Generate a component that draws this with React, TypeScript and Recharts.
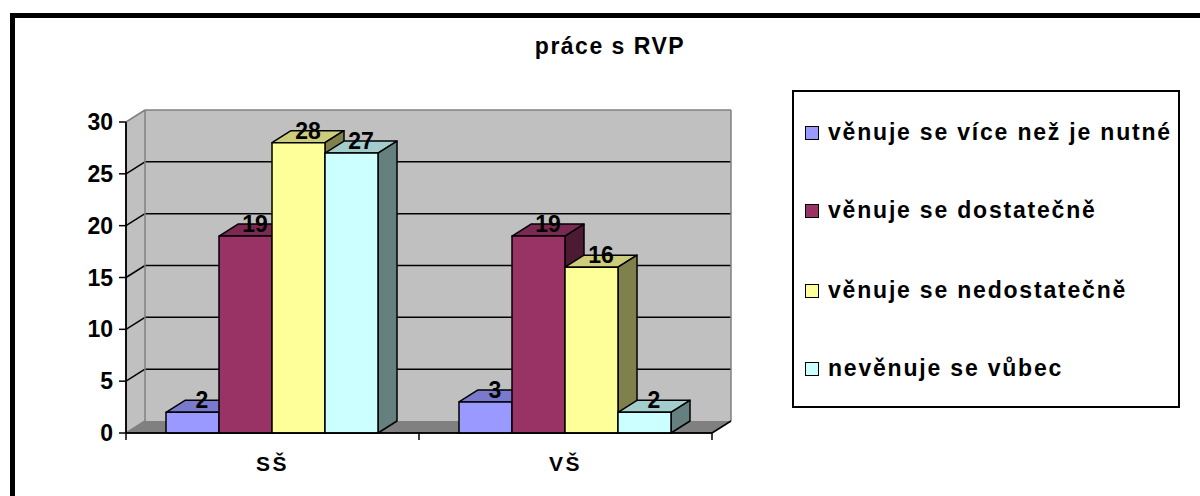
import React from "react";
import {
    BarChart,
    Bar,
    XAxis,
    YAxis,
    ReferenceArea,
    LabelList,
} from "recharts";

const categories = ["SŠ", "VŠ"];
const seriesNames = [
    "věnuje se více než je nutné",
    "věnuje se dostatečně",
    "věnuje se nedostatečně",
    "nevěnuje se vůbec",
];
const moreThanNeeded = [2, 3];
const enough = [19, 19];
const notEnough = [28, 16];
const notAtAll = [27, 2];
const yTicks = [0, 5, 10, 15, 20, 25, 30];

const seriesValues = [moreThanNeeded, enough, notEnough, notAtAll];

// front / top / side face colours for each series
const faces = [
    { front: "#9999FF", top: "#7A7ACC", side: "#4D4D80" },
    { front: "#993366", top: "#7A2952", side: "#4D1A33" },
    { front: "#FFFF99", top: "#CCCC7A", side: "#80804D" },
    { front: "#CCFFFF", top: "#A3CCCC", side: "#668080" },
];

const data = categories.map((name, i) => {
    const row: Record<string, string | number> = { name };
    seriesValues.forEach((vals, s) => {
        row[`s${s}`] = vals[i];
    });
    return row;
});

// depth of the 3D projection
const DX = 19;
const DY = -12;

const FONT = "Arial, 'Liberation Sans', sans-serif";
const WALL = "#C0C0C0";
const EDGE = "#808080";

const makeBar3D = (c: { front: string; top: string; side: string }) => (props: any) => {
    const { x, y, width, height } = props;
    if (width == null || height == null) return null;
    const b = y + height;
    const r = x + width;
    return (
        <g stroke="#000" strokeWidth={1.5} strokeLinejoin="round">
            <polygon
                points={`${x},${y} ${x + DX},${y + DY} ${r + DX},${y + DY} ${r},${y}`}
                fill={c.top}
            />
            <polygon
                points={`${r},${y} ${r + DX},${y + DY} ${r + DX},${b + DY} ${r},${b}`}
                fill={c.side}
            />
            <rect x={x} y={y} width={width} height={height} fill={c.front} />
        </g>
    );
};

const renderValue = (props: any) => {
    const { x, y, width, value } = props;
    return (
        <text
            x={x + width / 2 + DX / 2}
            y={y + DY}
            textAnchor="middle"
            dominantBaseline="central"
            fontFamily={FONT}
            fontWeight="bold"
            fontSize={23}
            fill="#000"
        >
            {value}
        </text>
    );
};

// back wall, side wall, floor and grid of the 3D box
const Walls = (props: any) => {
    const { x, y, width, height } = props;
    const bottom = y + height;
    const right = x + width;
    const yMax = yTicks[yTicks.length - 1];
    const yOf = (v: number) => bottom - (height * v) / yMax;
    const inner = yTicks.filter((v) => v > 0 && v < yMax);
    const catW = width / categories.length;
    const tickXs = [0, ...categories.map((_, i) => (i + 1) * catW)].map((d) => x + d);
    return (
        <g>
            <polygon
                points={`${x},${bottom} ${x},${y} ${x + DX},${y + DY} ${x + DX},${bottom + DY}`}
                fill={WALL}
            />
            <rect x={x + DX} y={y + DY} width={width} height={height} fill={WALL} />
            <polygon
                points={`${x},${bottom} ${right},${bottom} ${right + DX},${bottom + DY} ${x + DX},${bottom + DY}`}
                fill={EDGE}
            />
            {inner.map((v) => (
                <g key={v} stroke="#000" strokeWidth={1.5}>
                    <line x1={x} y1={yOf(v)} x2={x + DX} y2={yOf(v) + DY} />
                    <line x1={x + DX} y1={yOf(v) + DY} x2={right + DX} y2={yOf(v) + DY} />
                </g>
            ))}
            <g stroke={EDGE} strokeWidth={1.5} fill="none">
                <line x1={x} y1={y} x2={x + DX} y2={y + DY} />
                <line x1={x + DX} y1={y + DY} x2={right + DX} y2={y + DY} />
                <line x1={right + DX} y1={y + DY} x2={right + DX} y2={bottom + DY} />
                <line x1={x + DX} y1={y + DY} x2={x + DX} y2={bottom + DY} />
                <line x1={x} y1={bottom} x2={x + DX} y2={bottom + DY} />
            </g>
            <g stroke="#000" strokeWidth={1.5}>
                <line x1={x} y1={y} x2={x} y2={bottom} />
                <line x1={x} y1={bottom} x2={right} y2={bottom} />
                <line x1={right} y1={bottom} x2={right + DX} y2={bottom + DY} />
                {tickXs.map((tx) => (
                    <line key={tx} x1={tx} y1={bottom} x2={tx} y2={bottom + 7} />
                ))}
            </g>
        </g>
    );
};

export default function App() {
    return (
        <div
            style={{
                position: "absolute",
                left: 0,
                top: 0,
                width: 1200,
                height: 496,
                overflow: "hidden",
                background: "#fff",
                fontFamily: FONT,
            }}
        >
            <div
                style={{
                    position: "absolute",
                    left: 10,
                    top: 13,
                    width: 1400,
                    height: 700,
                    border: "5px solid #000",
                    boxSizing: "border-box",
                }}
            />
            <div
                style={{
                    position: "absolute",
                    left: 460,
                    top: 35,
                    width: 300,
                    textAlign: "center",
                    fontSize: 23,
                    lineHeight: "23px",
                    fontWeight: "bold",
                    letterSpacing: 1.5,
                }}
            >
                práce s RVP
            </div>

            <div style={{ position: "absolute", left: 0, top: 0 }}>
                <BarChart
                    width={1200}
                    height={496}
                    data={data}
                    margin={{ top: 122, left: 0, right: 488, bottom: 0 }}
                    barCategoryGap={40}
                    barGap={0}
                >
                    <ReferenceArea y1={0} y2={30} shape={<Walls />} ifOverflow="visible" />
                    <XAxis
                        dataKey="name"
                        height={63}
                        tickLine={false}
                        tickSize={0}
                        tickMargin={23}
                        axisLine={{ stroke: "#000", strokeWidth: 1.5 }}
                        tick={{
                            fill: "#000",
                            fontSize: 21,
                            fontWeight: "bold",
                            fontFamily: FONT,
                            letterSpacing: 2.5,
                        }}
                    />
                    <YAxis
                        width={126}
                        domain={[0, 30]}
                        ticks={yTicks}
                        interval={0}
                        tickSize={7}
                        tickMargin={6}
                        axisLine={{ stroke: "#000", strokeWidth: 1.5 }}
                        tickLine={{ stroke: "#000", strokeWidth: 1.5 }}
                        tick={{ fill: "#000", fontSize: 23, fontWeight: "bold", fontFamily: FONT }}
                    />
                    {seriesNames.map((name, s) => (
                        <Bar
                            key={name}
                            dataKey={`s${s}`}
                            name={name}
                            fill={faces[s].front}
                            shape={makeBar3D(faces[s])}
                            isAnimationActive={false}
                        >
                            <LabelList dataKey={`s${s}`} content={renderValue} />
                        </Bar>
                    ))}
                </BarChart>
            </div>

            <div
                style={{
                    position: "absolute",
                    left: 792,
                    top: 90,
                    width: 388,
                    height: 318,
                    border: "2px solid #000",
                    boxSizing: "border-box",
                    background: "#fff",
                }}
            >
                {seriesNames.map((name, s) => (
                    <div
                        key={name}
                        style={{
                            position: "absolute",
                            left: 11,
                            top: [29, 107, 187, 265][s],
                            height: 23,
                            display: "flex",
                            alignItems: "center",
                            whiteSpace: "nowrap",
                        }}
                    >
                        <span
                            style={{
                                width: 12,
                                height: 12,
                                border: "1px solid #000",
                                background: faces[s].front,
                                marginRight: 9,
                            }}
                        />
                        <span
                            style={{
                                fontSize: 23,
                                lineHeight: "23px",
                                fontWeight: "bold",
                                letterSpacing: 1.8,
                            }}
                        >
                            {name}
                        </span>
                    </div>
                ))}
            </div>
        </div>
    );
}
